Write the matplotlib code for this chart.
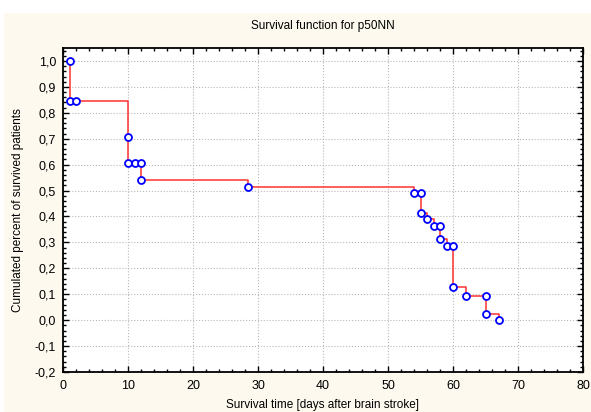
import matplotlib.pyplot as plt
from matplotlib.ticker import MultipleLocator, FuncFormatter
from matplotlib.patches import Rectangle

plt.rcParams['font.family'] = ['Liberation Sans', 'DejaVu Sans']

# survival time (days) and cumulated proportion surviving
days = [1, 1, 2, 10, 10, 11, 12, 12, 28.5, 54, 55, 55, 56, 57, 58, 58,
        59, 60, 60, 62, 65, 65, 67]
surv = [1.0, 0.846, 0.846, 0.705, 0.607, 0.607, 0.607, 0.54, 0.515, 0.49,
        0.49, 0.413, 0.39, 0.364, 0.364, 0.312, 0.286, 0.286, 0.127, 0.093,
        0.093, 0.024, 0.0]

fig = plt.figure(figsize=(5.91, 4.12), dpi=100)
fig.patches.append(Rectangle((4/591, 0), 1, 1 - 13/412, transform=fig.transFigure,
                             facecolor='#fdf9ef', edgecolor='none', zorder=-10))
ax = fig.add_axes([63/591, 40/412, 520/591, 324/412])
ax.set_facecolor('white')

ax.plot(days, surv, drawstyle='steps-post', color='#ff3030', lw=1.1, zorder=2)
ax.plot(days, surv, 'o', ms=5, mfc='white', mec='#0000ff', mew=1.3, zorder=3)

ax.set_xlim(0, 80)
ax.set_ylim(-0.2, 1.05)
ax.xaxis.set_major_locator(MultipleLocator(10))
ax.xaxis.set_minor_locator(MultipleLocator(2))
ax.yaxis.set_major_locator(MultipleLocator(0.1))
ax.yaxis.set_minor_locator(MultipleLocator(0.02))
ax.yaxis.set_major_formatter(FuncFormatter(lambda v, p: f"{v:.1f}".replace('.', ',').replace('-0,0', '0,0')))
ax.tick_params(which='both', direction='in', top=True, right=True, labelsize=9)
ax.tick_params(which='major', length=4, width=1)
ax.tick_params(which='minor', length=2, width=1)
ax.tick_params(axis='x', pad=6)
ax.tick_params(axis='y', pad=5)
ax.grid(True, which='major', ls=':', color='#b8b8b8', lw=0.8)
for s in ax.spines.values():
    s.set_linewidth(1.3)

ax.set_title("Survival function for p50NN", fontsize=8.5, pad=14)
ax.set_xlabel("Survival time [days after brain stroke]", fontsize=8.5, labelpad=5)
ax.set_ylabel("Cumulated percent of survived patients", fontsize=8.5, labelpad=8)

fig.savefig("out.png", dpi=100)
